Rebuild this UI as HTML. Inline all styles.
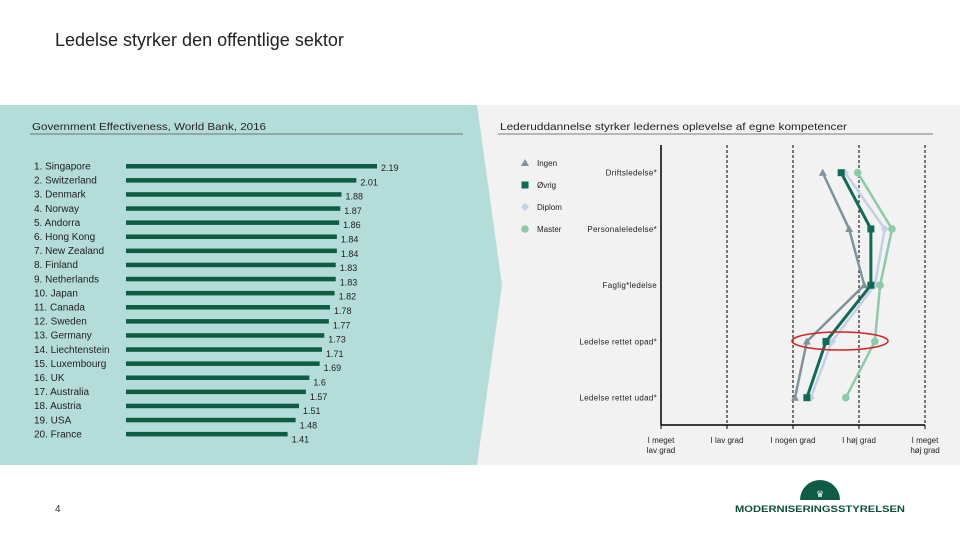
<!DOCTYPE html>
<html><head><meta charset="utf-8">
<style>
body{margin:0;width:960px;height:540px;background:#fff;overflow:hidden;font-family:"Liberation Sans",sans-serif;position:relative}
</style></head>
<body>
<svg width="960" height="540" viewBox="0 0 960 540" xmlns="http://www.w3.org/2000/svg" style="position:absolute;left:0;top:0" font-family="Liberation Sans, sans-serif">
  <text x="55" y="46" font-size="18" fill="#222">Ledelse styrker den offentlige sektor</text>
  <rect x="0" y="105" width="960" height="360" fill="#f2f2f2"/>
  <polygon points="0,105 477,105 502,285 477,465 0,465" fill="#b4dcd8"/>
  <text x="32" y="130" font-size="10.5" fill="#222" textLength="234" lengthAdjust="spacingAndGlyphs">Government Effectiveness, World Bank, 2016</text>
  <line x1="30" y1="134" x2="463" y2="134" stroke="#555" stroke-width="0.8"/>
  <text x="500" y="130" font-size="10.5" fill="#222" textLength="347" lengthAdjust="spacingAndGlyphs">Lederuddannelse styrker ledernes oplevelse af egne kompetencer</text>
  <line x1="498" y1="134" x2="933" y2="134" stroke="#555" stroke-width="0.8"/>
  <g id="bars"></g>
  <g id="lines"></g>
  <text x="55" y="512" font-size="10" fill="#333">4</text>
  <g>
    <path d="M800,500 A20,20 0 0 1 840,500 Z" fill="#0e5c45"/>
    <text x="820" y="497" font-size="9" fill="#fff" text-anchor="middle">♛</text>
    <text x="735" y="512" font-size="9.5" font-weight="bold" fill="#0e4f3c" textLength="170" lengthAdjust="spacingAndGlyphs">MODERNISERINGSSTYRELSEN</text>
  </g>
</svg>
<script>
const countries=["1. Singapore","2. Switzerland","3. Denmark","4. Norway","5. Andorra","6. Hong Kong","7. New Zealand","8. Finland","9. Netherlands","10. Japan","11. Canada","12. Sweden","13. Germany","14. Liechtenstein","15. Luxembourg","16. UK","17. Australia","18. Austria","19. USA","20. France"];
const scores=[2.19,2.01,1.88,1.87,1.86,1.84,1.84,1.83,1.83,1.82,1.78,1.77,1.73,1.71,1.69,1.6,1.57,1.51,1.48,1.41];
const scoreLabels=["2.19","2.01","1.88","1.87","1.86","1.84","1.84","1.83","1.83","1.82","1.78","1.77","1.73","1.71","1.69","1.6","1.57","1.51","1.48","1.41"];

const categories=["Driftsledelse*","Personaleledelse*","Faglig*ledelse","Ledelse rettet opad*","Ledelse rettet udad*"];
const xTicks=["I meget|lav grad","I lav grad","I nogen grad","I høj grad","I meget|høj grad"];
const seriesNames=["Ingen","Øvrig","Diplom","Master"];
const ingen=[3.45,3.85,4.08,3.21,3.03];
const ovrig=[3.73,4.18,4.18,3.5,3.21];
const diplom=[3.79,4.39,4.24,3.59,3.27];
const master=[3.98,4.5,4.32,4.24,3.8];

const NS="http://www.w3.org/2000/svg";
function mk(tag,attrs,parent){const e=document.createElementNS(NS,tag);for(const k in attrs)e.setAttribute(k,attrs[k]);parent.appendChild(e);return e;}

const bx=v=>126+v*114.6;
const by=i=>166+i*14.1;
const bg=document.getElementById('bars');
countries.forEach((c,i)=>{
  const t=mk('text',{x:34,y:by(i)+3.5,'font-size':10,fill:'#222'},bg);t.textContent=c;
  
  
  const r=mk('rect',{x:126,y:by(i)-2,width:bx(scores[i])-126,height:4.5,fill:'#0d5c43'},bg);
  
  
  const v=mk('text',{x:bx(scores[i])+4,y:by(i)+5+i*0.2,'font-size':9,fill:'#222'},bg);v.textContent=scoreLabels[i];
  
  
});

const lx=v=>661+(v-1)*66;
const ly=i=>172.7+i*56.25;
const lg=document.getElementById('lines');
mk('line',{x1:661,y1:145,x2:661,y2:425,stroke:'#000','stroke-width':1.5},lg);
mk('line',{x1:661,y1:425,x2:925,y2:425,stroke:'#000','stroke-width':1.5},lg);
for(let k=1;k<=5;k++){
  if(k>1)mk('line',{x1:lx(k),y1:145,x2:lx(k),y2:425,stroke:'#000','stroke-width':1,'stroke-dasharray':'3,2'},lg);
  mk('line',{x1:lx(k),y1:425,x2:lx(k),y2:429,stroke:'#000','stroke-width':1},lg);
  const parts=xTicks[k-1].split('|');
  parts.forEach((p,j)=>{const t=mk('text',{x:lx(k),y:443+j*10,'font-size':8,fill:'#222','text-anchor':'middle'},lg);t.textContent=p;
  
  });
}
categories.forEach((c,i)=>{const t=mk('text',{x:657,y:ly(i)+3,'font-size':8,fill:'#222','text-anchor':'end','letter-spacing':'0.3'},lg);t.textContent=c;
  
  });
const series=[ingen,ovrig,diplom,master];
const colors=["#7f939b","#0e6b56","#c5cfe6","#8ccaaa"];
const order=[0,2,3,1];
order.forEach(s=>{
  const pts=series[s].map((v,i)=>lx(v)+','+ly(i)).join(' ');
  const pl=mk('polyline',{points:pts,fill:'none',stroke:colors[s],'stroke-width':s==1?3:2.5},lg);
  
  
  series[s].forEach((v,i)=>{
    const x=lx(v),y=ly(i);let m;
    if(s==0)m=mk('polygon',{points:`${x},${y-4} ${x-4},${y+3} ${x+4},${y+3}`,fill:colors[s]},lg);
    else if(s==1)m=mk('rect',{x:x-3.5,y:y-3.5,width:7,height:7,fill:colors[s]},lg);
    else if(s==2)m=mk('polygon',{points:`${x},${y-4} ${x+4},${y} ${x},${y+4} ${x-4},${y}`,fill:colors[s]},lg);
    else m=mk('circle',{cx:x,cy:y,r:3.8,fill:colors[s]},lg);
    
    
  });
});
mk('ellipse',{cx:840,cy:341,rx:48,ry:9,fill:'none',stroke:'#d32020','stroke-width':1.5},lg);
const legY=[163,185,207,229];
seriesNames.forEach((n,s)=>{
  const x=525,y=legY[s];let m;
  if(s==0)m=mk('polygon',{points:`${x},${y-4} ${x-4},${y+3} ${x+4},${y+3}`,fill:colors[s]},lg);
  else if(s==1)m=mk('rect',{x:x-3.5,y:y-3.5,width:7,height:7,fill:colors[s]},lg);
  else if(s==2)m=mk('polygon',{points:`${x},${y-4} ${x+4},${y} ${x},${y+4} ${x-4},${y}`,fill:colors[s]},lg);
  else m=mk('circle',{cx:x,cy:y,r:3.8,fill:colors[s]},lg);
  
  
  const t=mk('text',{x:537,y:y+3,'font-size':8,fill:'#222'},lg);t.textContent=n;
  
  
});
</script>
</body></html>
